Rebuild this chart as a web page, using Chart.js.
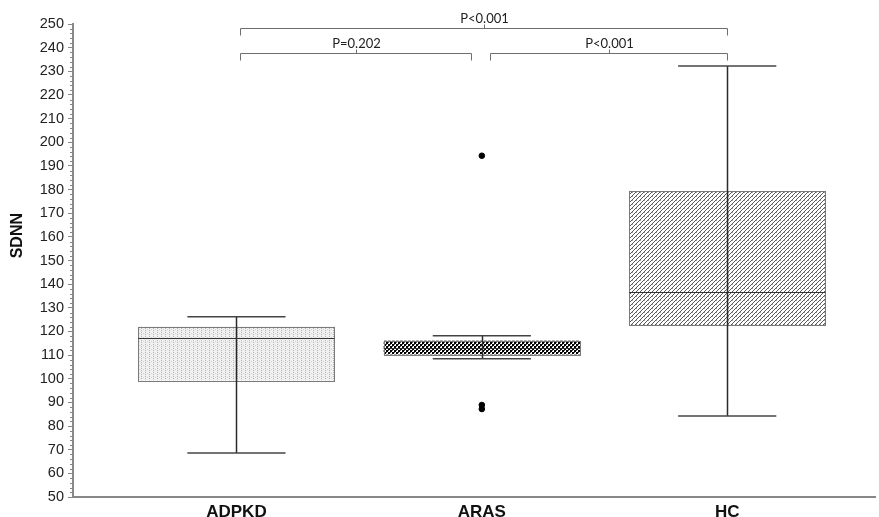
<!DOCTYPE html>
<html>
<head>
<meta charset="utf-8">
<script src="https://cdn.jsdelivr.net/npm/chart.js@4"></script>
<style>
  html, body { margin: 0; padding: 0; background: #fff; }
  #wrap { width: 879px; height: 517px; }
</style>
</head>
<body>
<div id="wrap"><canvas id="sdnn-chart"></canvas></div>
<script>
// values
const categories = ['ADPKD', 'ARAS', 'HC'];
const whiskerLow = [68.6, 108.5, 84.2];
const q1 = [99.3, 110.3, 122.6];
const median = [117.4, 113.0, 136.7];
const q3 = [122.0, 116.1, 179.4];
const whiskerHigh = [126.2, 118.2, 232.2];
const outlierX = [1, 1, 1];
const outlierY = [194.3, 88.9, 87.2];
const yTicks = [50, 250, 10];
const yTitle = 'SDNN';

// significance brackets: [from, to, label]
const comparisons = [
  [0.016, 2.0, 'P<0.001'],
  [0.016, 0.957, 'P=0.202'],
  [1.035, 2.0, 'P<0.001']
];
const bracketLevel = [248.2, 237.9, 237.9];

function makePattern(size, draw) {
  const c = document.createElement('canvas');
  c.width = size; c.height = size;
  const g = c.getContext('2d');
  g.fillStyle = '#fff';
  g.fillRect(0, 0, size, size);
  draw(g);
  return g.createPattern(c, 'repeat');
}

const patterns = [
  // light dotted
  makePattern(4, g => {
    g.fillStyle = '#f0f0f0';
    g.fillRect(0, 0, 4, 4);
    g.fillStyle = '#b4b4b4';
    g.fillRect(1, 0, 1, 1);
    g.fillRect(1, 2, 1, 1);
    g.fillStyle = '#d4d4d4';
    g.fillRect(3, 1, 1, 1);
  }),
  // dark checker
  makePattern(4, g => {
    g.fillStyle = '#000';
    g.fillRect(0, 0, 2, 2);
    g.fillRect(2, 2, 2, 2);
    g.fillStyle = '#555';
    g.fillRect(2, 0, 1, 1);
    g.fillRect(0, 2, 1, 1);
  }),
  // diagonal hatch
  makePattern(4, g => {
    g.fillStyle = '#5a5a5a';
    g.fillRect(3, 0, 1, 1);
    g.fillRect(2, 1, 1, 1);
    g.fillRect(1, 2, 1, 1);
    g.fillRect(0, 3, 1, 1);
    g.fillStyle = '#a0a0a0';
    g.fillRect(0, 0, 1, 1);
  })
];

const boxPlugin = {
  id: 'boxes',
  beforeDatasetsDraw(chart) {
    const ctx = chart.ctx;
    const x = chart.scales.x, y = chart.scales.y;
    const boxHalf = 0.4, capHalf = 0.2;
    ctx.save();
    categories.forEach((cat, i) => {
      const xl = x.getPixelForValue(i - boxHalf);
      const xr = x.getPixelForValue(i + boxHalf);
      const xc = Math.round(x.getPixelForValue(i)) + 0.5;
      const yTop = y.getPixelForValue(q3[i]);
      const yBot = y.getPixelForValue(q1[i]);
      ctx.fillStyle = patterns[i];
      ctx.fillRect(xl, yTop, xr - xl, yBot - yTop);
      ctx.strokeStyle = '#7a7a7a';
      ctx.lineWidth = 1;
      ctx.strokeRect(Math.round(xl) + 0.5, Math.round(yTop) + 0.5, Math.round(xr - xl), Math.round(yBot - yTop));

      ctx.strokeStyle = '#2b2b2b';
      ctx.lineWidth = 1.5;
      ctx.beginPath();
      ctx.moveTo(xc, y.getPixelForValue(whiskerHigh[i]));
      ctx.lineTo(xc, y.getPixelForValue(whiskerLow[i]));
      ctx.stroke();

      const cl = x.getPixelForValue(i - capHalf), cr = x.getPixelForValue(i + capHalf);
      ctx.strokeStyle = '#444';
      ctx.lineWidth = 1.5;
      [whiskerHigh[i], whiskerLow[i]].forEach(v => {
        const yy = y.getPixelForValue(v);
        ctx.beginPath();
        ctx.moveTo(cl, yy);
        ctx.lineTo(cr, yy);
        ctx.stroke();
      });

      ctx.strokeStyle = '#333';
      ctx.lineWidth = 1;
      const ym = Math.round(y.getPixelForValue(median[i])) + 0.5;
      ctx.beginPath();
      ctx.moveTo(xl, ym);
      ctx.lineTo(xr, ym);
      ctx.stroke();
    });
    ctx.restore();
  },
  afterDraw(chart) {
    const ctx = chart.ctx;
    const x = chart.scales.x, y = chart.scales.y;
    ctx.save();
    // minor ticks on the y axis
    ctx.strokeStyle = '#888';
    ctx.lineWidth = 1;
    const ax = chart.chartArea.left;
    for (let v = yTicks[0]; v <= yTicks[1]; v += 2) {
      if (v % yTicks[2] === 0) continue;
      const yy = Math.round(y.getPixelForValue(v)) + 0.5;
      ctx.beginPath();
      ctx.moveTo(ax - 3, yy);
      ctx.lineTo(ax, yy);
      ctx.stroke();
    }
    // brackets
    ctx.strokeStyle = '#6e6e6e';
    ctx.lineWidth = 1;
    ctx.fillStyle = '#222';
    ctx.font = '13px Lato, "Liberation Sans", sans-serif';
    ctx.textAlign = 'center';
    ctx.textBaseline = 'bottom';
    comparisons.forEach((c, k) => {
      const x1 = Math.round(x.getPixelForValue(c[0])) + 0.5;
      const x2 = Math.round(x.getPixelForValue(c[1])) + 0.5;
      const yy = Math.round(y.getPixelForValue(bracketLevel[k])) + 0.5;
      const mid = Math.round((x1 + x2) / 2) + 0.5;
      ctx.beginPath();
      ctx.moveTo(x1, yy + 7);
      ctx.lineTo(x1, yy);
      ctx.lineTo(x2, yy);
      ctx.lineTo(x2, yy + 7);
      ctx.moveTo(mid, yy);
      ctx.lineTo(mid, yy - 4);
      ctx.stroke();
      ctx.fillText(c[2], mid, yy - 3);
    });
    // y axis title, sits a little above the axis middle in the original
    ctx.translate(18, y.getPixelForValue(160.5));
    ctx.rotate(-Math.PI / 2);
    ctx.fillStyle = '#111';
    ctx.font = 'bold 16px "Liberation Sans", Arial, sans-serif';
    ctx.textBaseline = 'middle';
    ctx.fillText(yTitle, 0, 0);
    ctx.restore();
  }
};

new Chart(document.getElementById('sdnn-chart'), {
  type: 'scatter',
  data: {
    datasets: [{
      data: outlierX.map((v, i) => ({ x: v, y: outlierY[i] })),
      backgroundColor: '#000',
      borderColor: '#000',
      pointRadius: 2.8,
      pointHoverRadius: 2.8
    }]
  },
  options: {
    responsive: true,
    maintainAspectRatio: false,
    animation: false,
    layout: { padding: { top: 24, right: 0, left: 0, bottom: 0 } },
    plugins: {
      legend: { display: false },
      tooltip: { enabled: false }
    },
    scales: {
      x: {
        type: 'linear',
        min: -0.666,
        max: 2.603,
        afterBuildTicks: s => { s.ticks = categories.map((c, i) => ({ value: i })); },
        afterFit: s => { s.height = 20; },
        grid: { display: false, drawTicks: false },
        border: { color: '#888', width: 2 },
        ticks: {
          padding: 5,
          color: '#111',
          font: { family: '"Liberation Sans", Arial, sans-serif', size: 17, weight: 'bold' },
          callback: v => categories[v]
        }
      },
      y: {
        min: yTicks[0],
        max: yTicks[1],
        afterFit: s => { s.width = 73; },
        grid: { drawOnChartArea: false, drawTicks: true, tickLength: 5, color: '#888' },
        border: { color: '#888', width: 2 },
        ticks: {
          stepSize: yTicks[2],
          padding: 4,
          color: '#222',
          font: { family: '"Liberation Sans", Arial, sans-serif', size: 14.5 }
        }
      }
    }
  },
  plugins: [boxPlugin]
});
</script>
</body>
</html>
